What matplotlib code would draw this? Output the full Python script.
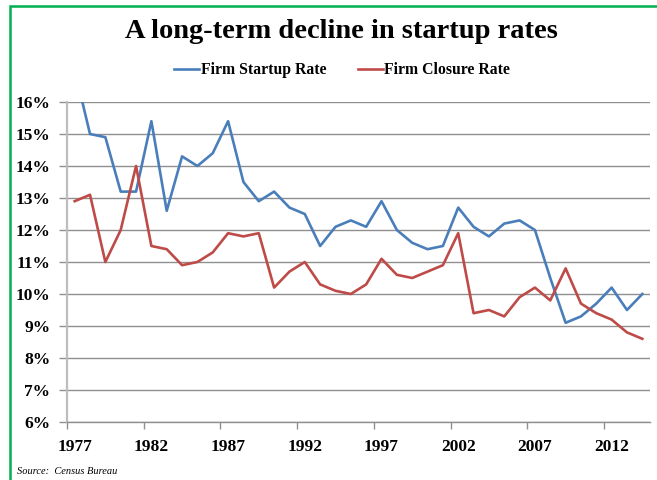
import numpy as np
import matplotlib
matplotlib.use("Agg")
import matplotlib.pyplot as plt
from matplotlib.patches import Rectangle

# Dane (procent)
years = list(range(1977, 2015))
startup_rate = [17.0, 15.0, 14.9, 13.2, 13.2, 15.4, 12.6, 14.3, 14.0, 14.4,
                15.4, 13.5, 12.9, 13.2, 12.7, 12.5, 11.5, 12.1, 12.3, 12.1,
                12.9, 12.0, 11.6, 11.4, 11.5, 12.7, 12.1, 11.8, 12.2, 12.3,
                12.0, 10.5, 9.1, 9.3, 9.7, 10.2, 9.5, 10.0]
closure_rate = [12.9, 13.1, 11.0, 12.0, 14.0, 11.5, 11.4, 10.9, 11.0, 11.3,
                11.9, 11.8, 11.9, 10.2, 10.7, 11.0, 10.3, 10.1, 10.0, 10.3,
                11.1, 10.6, 10.5, 10.7, 10.9, 11.9, 9.4, 9.5, 9.3, 9.9,
                10.2, 9.8, 10.8, 9.7, 9.4, 9.2, 8.8, 8.6]
y_ticks = [6, 7, 8, 9, 10, 11, 12, 13, 14, 15, 16]
x_label_years = [1977, 1982, 1987, 1992, 1997, 2002, 2007, 2012]

SERIF = "Liberation Serif"
BLUE = "#4a7ebb"
RED = "#be4b48"
GRID = "#8f8f8f"

fig = plt.figure(figsize=(6.57, 4.80), dpi=100, facecolor="white")
ax = fig.add_axes([67 / 657, 1 - 422 / 480, (650 - 67) / 657, (422 - 102) / 480])

x = np.arange(len(years))
ax.plot(x, startup_rate, color=BLUE, lw=1.9, label="Firm Startup Rate")
ax.plot(x, closure_rate, color=RED, lw=1.9, label="Firm Closure Rate")

ax.set_xlim(-0.5, len(years) - 0.5)
ax.set_ylim(6, 16)

# oś Y
ax.set_yticks(y_ticks)
ax.set_yticklabels([f"{v}%" for v in y_ticks], family=SERIF,
                   fontweight="bold", fontsize=12.5)
ax.tick_params(axis="y", length=6, width=1, color=GRID, pad=6)
ax.grid(axis="y", color=GRID, lw=1)

# oś X – etykiety w środku kategorii, kreski na granicach
label_pos = [years.index(yr) for yr in x_label_years]
ax.set_xticks(label_pos)
ax.set_xticklabels([str(yr) for yr in x_label_years], family=SERIF,
                   fontweight="bold", fontsize=12.5)
ax.tick_params(axis="x", which="major", length=0, pad=12)
ax.set_xticks([p - 0.5 for p in label_pos], minor=True)
ax.tick_params(axis="x", which="minor", length=5, width=1, color=GRID)

for side in ["top", "right"]:
    ax.spines[side].set_visible(False)
ax.spines["left"].set_color("#bdbdbd")
ax.spines["left"].set_linewidth(1.6)
ax.spines["bottom"].set_color(GRID)
ax.spines["bottom"].set_linewidth(1)
ax.set_axisbelow(True)

fig.text(341 / 657, 1 - 32 / 480, "A long-term decline in startup rates",
         family=SERIF, fontweight="bold", fontsize=20.5, ha="center", va="center")

ax.legend(loc="center", bbox_to_anchor=(342 / 657, 1 - 70 / 480),
          bbox_transform=fig.transFigure, ncol=2, frameon=False,
          prop={"family": SERIF, "weight": "bold", "size": 11.3},
          handlelength=1.6, handletextpad=0.1, columnspacing=2.0)

fig.text(17 / 657, 1 - 471 / 480, "Source:  Census Bureau", family=SERIF,
         style="italic", fontsize=7.5, ha="left", va="center")

# zielona ramka
fig.patches.append(Rectangle((9.5 / 657, -0.05), 1.1, 1 - 6 / 480 + 0.05,
                             transform=fig.transFigure, fill=False,
                             edgecolor="#00b050", lw=1.8))

fig.savefig("out.png", dpi=100, facecolor="white")
